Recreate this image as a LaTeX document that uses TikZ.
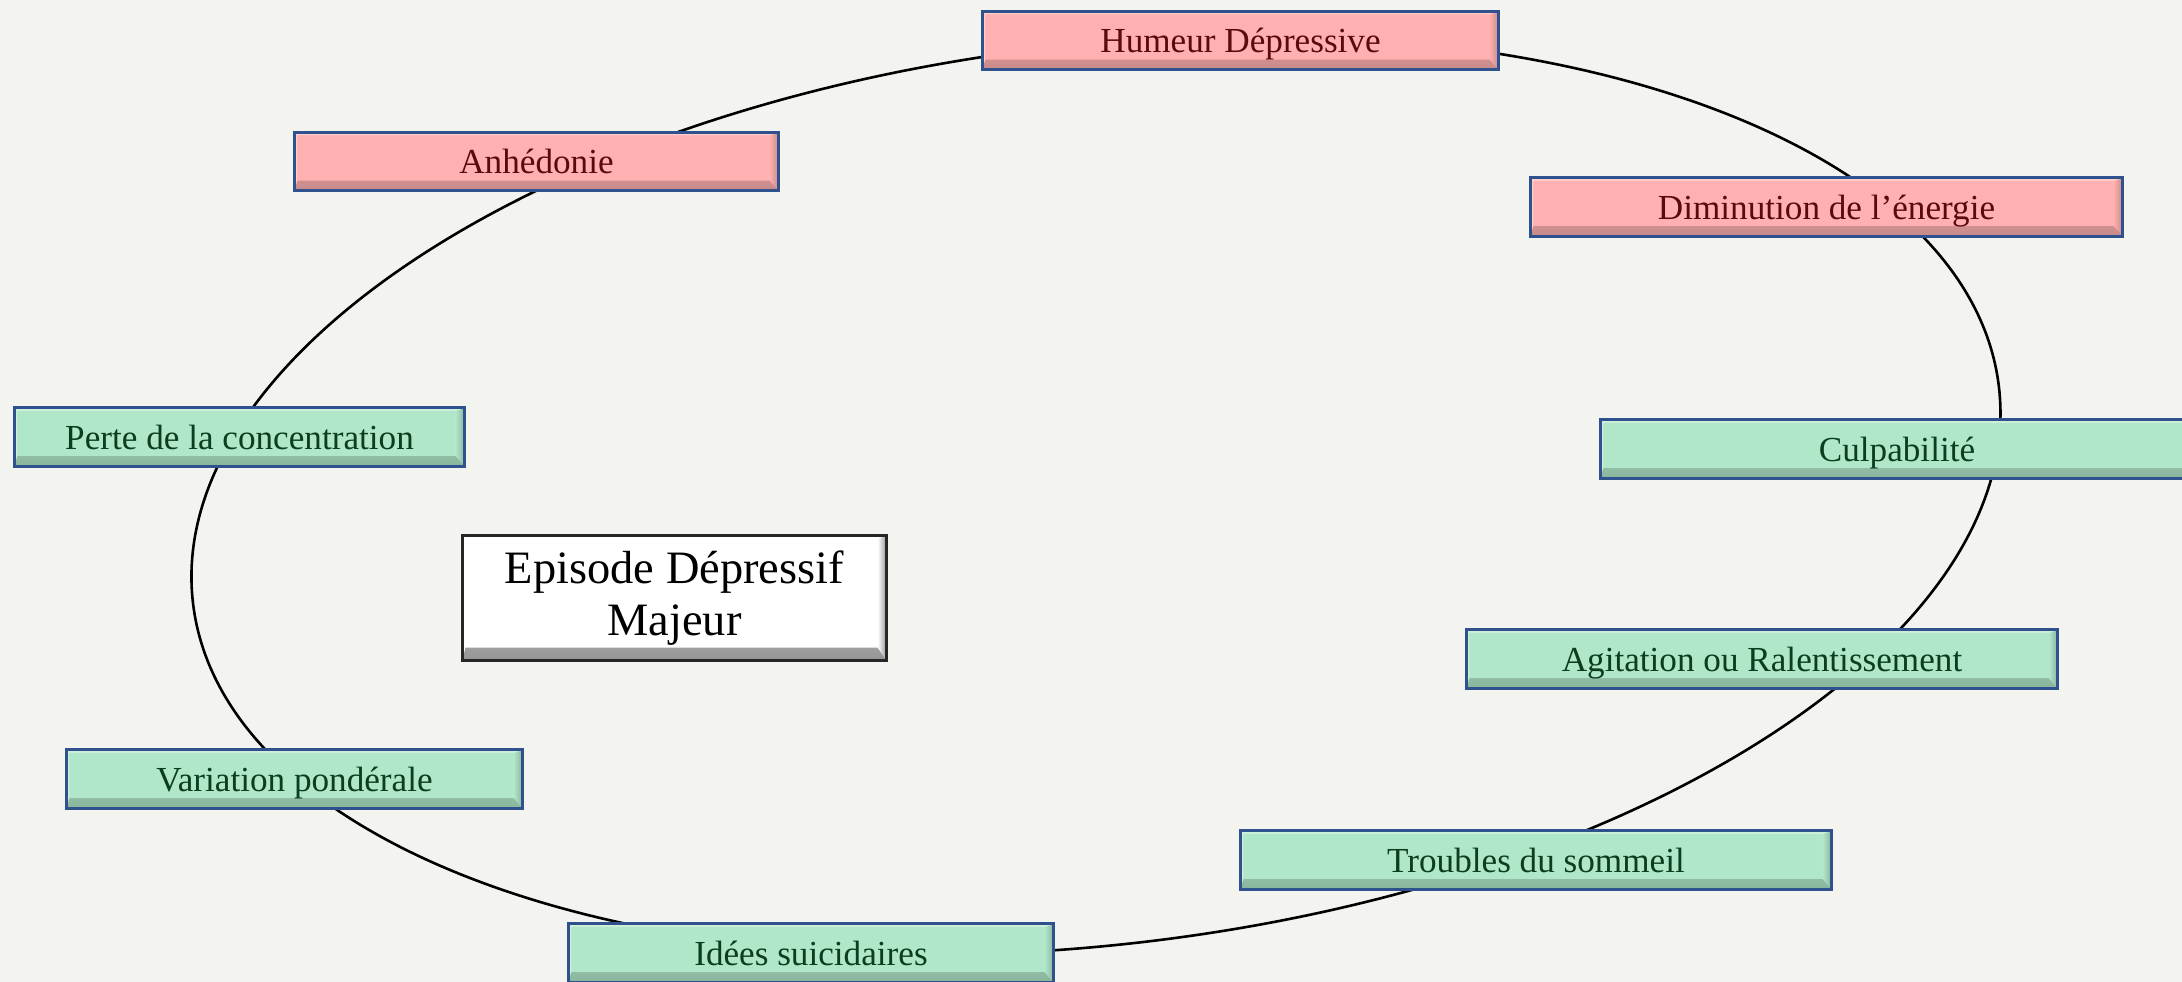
\documentclass[tikz,border=0pt]{standalone}
\usepackage{fontspec}
\setmainfont{Liberation Serif}
\usetikzlibrary{calc}

\definecolor{bgc}{HTML}{F3F3EF}
\definecolor{pinkc}{HTML}{FFB0B0}
\definecolor{greenc}{HTML}{B1E7C9}
\definecolor{edgeblue}{HTML}{2F528F}
\definecolor{pinktext}{HTML}{5A0A0C}
\definecolor{greentext}{HTML}{0B3D1E}

\tikzset{
  % raised look: shaded bands at bottom (#2 high) and right (#3 wide), light rim at top and left
  bevel/.style n args={4}{path picture={
    \shade[top color=#1, bottom color=#1!#4!black]
      (path picture bounding box.south west) -- (path picture bounding box.south east)
      -- ([shift={(-#3,#2)}]path picture bounding box.south east)
      -- ([shift={(3,#2)}]path picture bounding box.south west) -- cycle;
    \shade[left color=#1, right color=#1!#4!black]
      (path picture bounding box.south east) -- (path picture bounding box.north east)
      -- ([shift={(-#3,-3)}]path picture bounding box.north east)
      -- ([shift={(-#3,#2)}]path picture bounding box.south east) -- cycle;
    \fill[white, opacity=0.35]
      (path picture bounding box.north west) -- (path picture bounding box.north east)
      -- ([shift={(-#3,-3)}]path picture bounding box.north east)
      -- ([shift={(3,-3)}]path picture bounding box.north west) -- cycle;
    \fill[white, opacity=0.35]
      (path picture bounding box.north west) -- ([shift={(3,-3)}]path picture bounding box.north west)
      -- ([shift={(3,#2)}]path picture bounding box.south west) -- (path picture bounding box.south west) -- cycle;
  }},
  box/.style={rectangle, draw=edgeblue, line width=0.03cm, minimum height=0.58cm,
    inner sep=0pt, font=\fontsize{10}{12}\selectfont, text height=7.1pt, text depth=0pt},
  pinkbox/.style={box, fill=pinkc, bevel={pinkc}{10}{9}{78}, text=pinktext},
  greenbox/.style={box, fill=greenc, bevel={greenc}{10}{9}{78}, text=greentext},
  titlebox/.style={rectangle, draw=black!85, line width=0.03cm, fill=white, bevel={white}{13}{9}{58},
    inner sep=0pt, align=center, font=\fontsize{13.2}{14.6}\selectfont},
  cycleline/.style={draw=black, line width=0.026cm}
}

\begin{document}
\begin{tikzpicture}[x=0.01cm, y=0.01cm]
  \useasboundingbox (0,0) rectangle (2182,982);
  \clip (0,0) rectangle (2182,982);
  \fill[bgc] (0,0) rectangle (2182,982);

  % the cycle
  \coordinate (mid) at (1096,487);
  \path[cycleline, rotate around={6.87:(mid)}] (mid) ellipse [x radius=9.089cm, y radius=4.492cm];

  % core symptoms
  \node[pinkbox, minimum width=5.16cm] (hum) at (1240.5,941.5) {Humeur Dépressive};
  \node[pinkbox, minimum width=4.84cm] (anh) at (536.5,820.5) {Anhédonie};
  \node[pinkbox, minimum width=5.92cm] (dim) at (1826.5,775) {Diminution de l’énergie};

  % other symptoms
  \node[greenbox, minimum width=5.93cm] (cul) at (1897,533) {Culpabilité};
  \node[greenbox, minimum width=5.91cm] (agi) at (1762,323) {Agitation ou Ralentissement};
  \node[greenbox, minimum width=5.91cm] (tro) at (1536,122) {Troubles du sommeil};
  \node[greenbox, minimum width=4.85cm] (ide) at (811,29) {Idées suicidaires};
  \node[greenbox, minimum width=4.56cm] (var) at (294.5,203) {Variation pondérale};
  \node[greenbox, minimum width=4.50cm] (per) at (239.5,545) {Perte de la concentration};

  % title
  \node[titlebox, minimum width=4.24cm, minimum height=1.25cm] (ep) at (674.5,384)
    {Episode Dépressif\\Majeur};
\end{tikzpicture}
\end{document}
